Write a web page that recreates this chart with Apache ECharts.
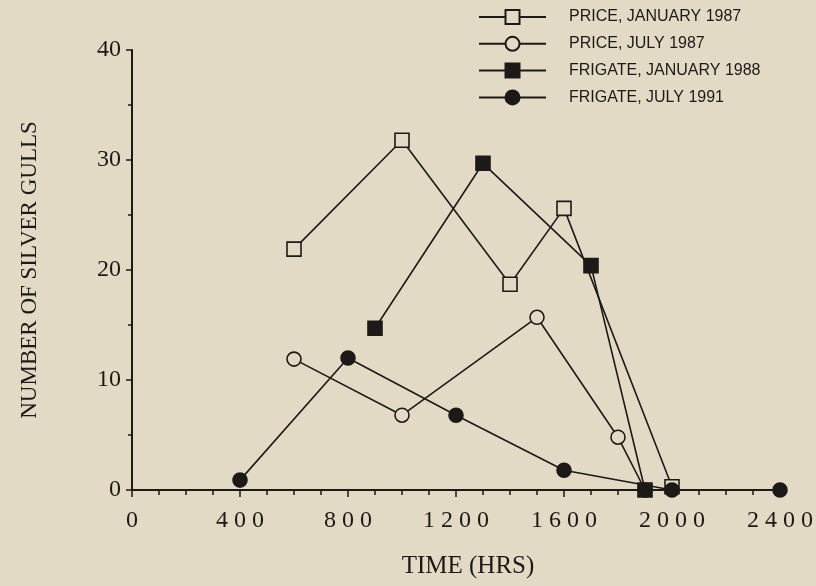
<!DOCTYPE html>
<html>
<head>
<meta charset="utf-8">
<script src="https://cdn.jsdelivr.net/npm/echarts@6/dist/echarts.min.js"></script>
<style>
  html, body { margin: 0; padding: 0; background: #e2dac4; }
  #chart { width: 816px; height: 586px; }
</style>
</head>
<body>
<div id="chart"></div>
<script>
// Data
const priceJan1987 = [[600, 21.9], [1000, 31.8], [1400, 18.7], [1600, 25.6], [2000, 0.3]];
const priceJul1987 = [[600, 11.9], [1000, 6.8], [1500, 15.7], [1800, 4.8], [1900, 0]];
const frigateJan1988 = [[900, 14.7], [1300, 29.7], [1700, 20.4], [1900, 0]];
const frigateJul1991 = [[400, 0.9], [800, 12.0], [1200, 6.8], [1600, 1.8], [2000, 0], [2400, 0]];
const seriesNames = ['PRICE, JANUARY 1987', 'PRICE, JULY 1987', 'FRIGATE, JANUARY 1988', 'FRIGATE, JULY 1991'];
const xTicks = { min: 0, max: 2400, interval: 400 };
const yTicks = { min: 0, max: 40, interval: 10 };

const BG = '#e2dac4';
const INK = '#1c1a17';

function mk(name, data, symbol, filled) {
  return {
    name: name,
    type: 'line',
    data: data,
    symbol: symbol,
    symbolSize: 14,
    showSymbol: true,
    lineStyle: { color: INK, width: 1.6 },
    itemStyle: { color: filled ? INK : BG, borderColor: INK, borderWidth: 1.6 },
    emphasis: { disabled: true },
    animation: false
  };
}

const chart = echarts.init(document.getElementById('chart'));
chart.setOption({
  backgroundColor: BG,
  animation: false,
  grid: { left: 132, right: 34, top: 50, bottom: 96 },
  legend: {
    orient: 'vertical',
    left: 473,
    top: 4,
    itemWidth: 67,
    itemHeight: 17.5,
    itemGap: 10.8,
    data: seriesNames,
    textStyle: { fontFamily: 'Liberation Sans', fontSize: 16, color: INK, padding: [0, 0, 0, 18] }
  },
  xAxis: {
    type: 'value',
    min: xTicks.min, max: xTicks.max, interval: xTicks.interval,
    name: 'TIME (HRS)',
    nameLocation: 'middle',
    nameGap: 64,
    nameTextStyle: { fontFamily: 'Liberation Serif', fontSize: 25, color: INK, padding: [0, 0, 0, 24] },
    axisLine: { show: true, lineStyle: { color: INK, width: 2 } },
    axisTick: { show: true, length: 7, lineStyle: { color: INK, width: 1.5 } },
    minorTick: { show: true, splitNumber: 4, length: 5, lineStyle: { color: INK, width: 1.5 } },
    splitLine: { show: false },
    axisLabel: {
      fontFamily: 'Liberation Serif', fontSize: 24, color: INK, margin: 19,
      formatter: v => String(v).split('').join(' ')
    }
  },
  yAxis: {
    type: 'value',
    min: yTicks.min, max: yTicks.max, interval: yTicks.interval,
    name: 'NUMBER OF SILVER GULLS',
    nameLocation: 'middle',
    nameGap: 91,
    nameTextStyle: { fontFamily: 'Liberation Serif', fontSize: 23, color: INK },
    axisLine: { show: true, lineStyle: { color: INK, width: 2 } },
    axisTick: { show: true, length: 6, lineStyle: { color: INK, width: 1.5 } },
    minorTick: { show: true, splitNumber: 2, length: 4, lineStyle: { color: INK, width: 1.5 } },
    splitLine: { show: false },
    axisLabel: { fontFamily: 'Liberation Serif', fontSize: 24, color: INK, margin: 11 }
  },
  series: [
    mk(seriesNames[0], priceJan1987, 'rect', false),
    mk(seriesNames[1], priceJul1987, 'circle', false),
    mk(seriesNames[2], frigateJan1988, 'rect', true),
    mk(seriesNames[3], frigateJul1991, 'circle', true)
  ]
});
</script>
</body>
</html>
